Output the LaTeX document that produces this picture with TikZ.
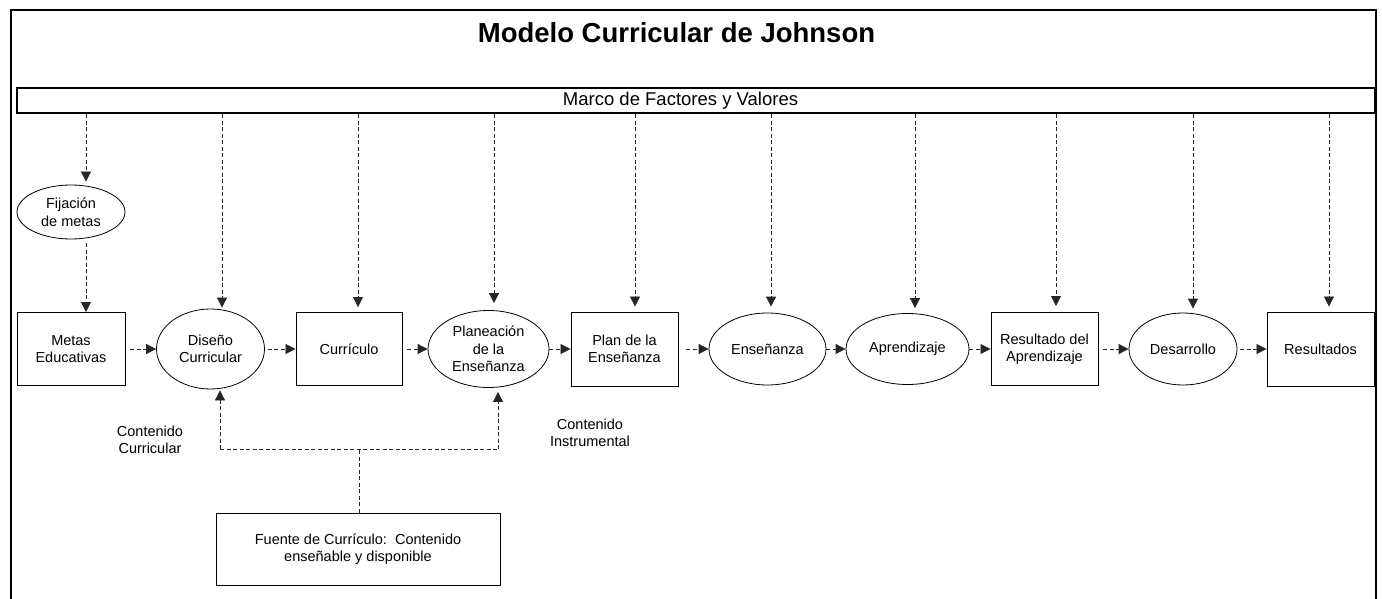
\documentclass[tikz,border=0pt]{standalone}
\usepackage{fontspec}
\setmainfont{Liberation Sans}
\usetikzlibrary{shapes.geometric,arrows.meta,calc}
\begin{document}
\begin{tikzpicture}[x=1pt,y=-1pt,
  lbl/.style={font=\fontsize{14.5}{17.5}\selectfont, align=center, inner sep=0pt},
  boxn/.style={draw, rectangle, line width=0.9pt, lbl},
  elln/.style={draw, ellipse, line width=0.8pt, lbl},
  dline/.style={draw=black!85, line width=0.8pt, dash pattern=on 4pt off 2.5pt},
  arr/.style={dline, -{Triangle[length=10pt,width=10pt]}}
]
\useasboundingbox (0,0) rectangle (1382,599);
\draw[line width=2pt, line join=miter] (11,601) -- (11,10) -- (1376,10) -- (1376,601);

\node[font=\bfseries\fontsize{27.5}{30}\selectfont, anchor=base, inner sep=0pt] (title) at (676.5,43) {Modelo Curricular de Johnson};
\node[draw, line width=2.5pt, minimum width=1358pt, minimum height=25pt, inner sep=0pt] (marco) at (696,100.5) {};
\node[font=\fontsize{18.5}{20}\selectfont, anchor=base, inner sep=0pt] (marcot) at (680.5,106) {Marco de Factores y Valores};

% main row
\node[boxn, minimum width=108pt, minimum height=73pt] (metas) at (71,349) {Metas\\Educativas};
\node[elln, minimum width=108pt, minimum height=80pt] (diseno) at (210.5,349) {Diseño\\Curricular};
\node[boxn, minimum width=106pt, minimum height=73pt] (curriculo) at (349,349) {Currículo};
\node[elln, minimum width=121pt, minimum height=77pt] (planeacion) at (488.5,349) {Planeación\\de la\\Enseñanza};
\node[boxn, minimum width=107pt, minimum height=74pt] (plan) at (624.5,349) {Plan de la\\Enseñanza};
\node[elln, minimum width=117pt, minimum height=72pt] (ensenanza) at (767.5,349) {Enseñanza};
\node[elln, minimum width=123pt, minimum height=71pt] (aprendizaje) at (907.5,349) {Aprendizaje};
\node[boxn, minimum width=107pt, minimum height=73pt] (resultado) at (1044.5,349) {Resultado del\\Aprendizaje};
\node[elln, minimum width=108pt, minimum height=72pt] (desarrollo) at (1183,349) {Desarrollo};
\node[boxn, minimum width=107pt, minimum height=74pt] (resultados) at (1320.5,349) {Resultados};

\node[elln, minimum width=108pt, minimum height=54pt] (fijacion) at (71,212) {Fijación\\de metas};
\node[boxn, minimum width=284pt, minimum height=72pt] (fuente) at (358,549) {Fuente de Currículo:\ \ Contenido\\enseñable y disponible};

\node[lbl] (lcur) at (150,440) {Contenido\\Curricular};
\node[lbl] (lins) at (590,433) {Contenido\\Instrumental};

% horizontal arrows
\draw[arr, shorten <=5pt] (metas.east) -- (diseno.west);
\draw[arr, shorten <=3pt] (diseno.east) -- (curriculo.west);
\draw[arr, shorten <=5pt] (curriculo.east) -- (planeacion.west);
\draw[arr] (planeacion.east) -- (plan.west);
\draw[arr, shorten <=8pt] (plan.east) -- (ensenanza.west);
\draw[arr] (ensenanza.east) -- (aprendizaje.west);
\draw[arr] (aprendizaje.east) -- (resultado.west);
\draw[arr, shorten <=5pt] (resultado.east) -- (desarrollo.west);
\draw[arr, shorten <=3pt] (desarrollo.east) -- (resultados.west);

% vertical arrows from marco
\draw[arr] ([xshift=15pt]fijacion.north |- marco.south) -- ([xshift=15pt,yshift=3pt]fijacion.north);
\draw[arr] ([xshift=15pt,yshift=-4pt]fijacion.south) -- ([xshift=15pt]metas.north);
\draw[arr] ([xshift=11.5pt]diseno.north |- marco.south) -- ([xshift=11.5pt,yshift=1pt]diseno.north);
\draw[arr] ([xshift=9pt]curriculo.north |- marco.south) -- ([xshift=9pt,yshift=5pt]curriculo.north);
\draw[arr] ([xshift=5.5pt]planeacion.north |- marco.south) -- ([xshift=5.5pt,yshift=7pt]planeacion.north);
\draw[arr] ([xshift=10.5pt]plan.north |- marco.south) -- ([xshift=10.5pt,yshift=5pt]plan.north);
\draw[arr] ([xshift=3.5pt]ensenanza.north |- marco.south) -- ([xshift=3.5pt,yshift=6pt]ensenanza.north);
\draw[arr] ([xshift=7.5pt]aprendizaje.north |- marco.south) -- ([xshift=7.5pt,yshift=5pt]aprendizaje.north);
\draw[arr] ([xshift=11.5pt]resultado.north |- marco.south) -- ([xshift=11.5pt,yshift=6pt]resultado.north);
\draw[arr] ([xshift=10pt]desarrollo.north |- marco.south) -- ([xshift=10pt,yshift=4pt]desarrollo.north);
\draw[arr] ([xshift=8.5pt]resultados.north |- marco.south) -- ([xshift=8.5pt,yshift=5pt]resultados.north);

% bottom network
\coordinate (jl) at (220,449);
\coordinate (jr) at (498,449);
\coordinate (jm) at (359,449);
\draw[dline] (fuente.north -| jm) -- (jm);
\draw[dline] (jl) -- (jr);
\draw[arr, shorten >=1pt] (jl) -- (jl |- diseno.south);
\draw[arr, shorten >=4pt] (jr) -- (jr |- planeacion.south);
\end{tikzpicture}
\end{document}
